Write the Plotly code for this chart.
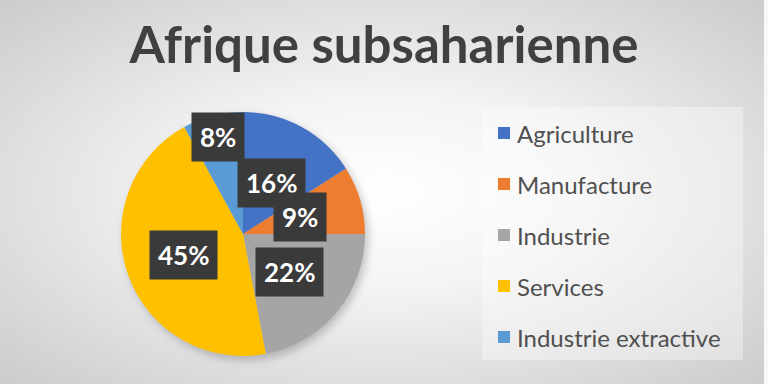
import base64
import math
import plotly.graph_objects as go

# ---- data ----
categories = ["Agriculture", "Manufacture", "Industrie", "Services", "Industrie extractive"]
values = [16, 9, 22, 45, 8]
title_text = "Afrique subsaharienne"

# ---- style ----
W, H = 768, 384
colors = ["#4472C4", "#ED7D31", "#A5A5A5", "#FFC000", "#5B9BD5"]
pie_cx, pie_cy, pie_r = 243, 234, 122          # pixels
label_radius = [0.48, 0.49, 0.49, 0.52, 0.82]  # fraction of radius for label boxes
FONT = "Lato"

bg_svg = (
    f'<svg xmlns="http://www.w3.org/2000/svg" width="{W}" height="{H}">'
    '<defs><radialGradient id="g" cx="50%" cy="50%" r="71%">'
    '<stop offset="0" stop-color="#ffffff"/><stop offset="0.35" stop-color="#f4f4f4"/>'
    '<stop offset="1" stop-color="#cbcbcb"/></radialGradient>'
    '<filter id="b" x="-20%" y="-20%" width="140%" height="140%"><feGaussianBlur stdDeviation="4"/></filter></defs>'
    f'<rect width="{W}" height="{H}" fill="url(#g)"/>'
    f'<rect x="{W - 4}" width="4" height="{H}" fill="#f8f8f8"/>'
    f'<circle cx="{pie_cx + 3}" cy="{pie_cy + 4}" r="{pie_r}" fill="rgba(0,0,0,0.22)" filter="url(#b)"/>'
    '</svg>'
)
bg_src = "data:image/svg+xml;base64," + base64.b64encode(bg_svg.encode()).decode()

fig = go.Figure()
fig.add_trace(go.Pie(
    labels=categories,
    values=values,
    sort=False,
    direction="clockwise",
    rotation=0,
    marker=dict(colors=colors, line=dict(width=0)),
    textinfo="none",
    hoverinfo="label+percent",
    showlegend=False,
    domain=dict(x=[(pie_cx - pie_r) / W, (pie_cx + pie_r) / W],
                y=[(H - pie_cy - pie_r) / H, (H - pie_cy + pie_r) / H]),
))

annotations = []
total = sum(values)
cum = 0
for i, v in enumerate(values):
    mid = (cum + v / 2) / total
    cum += v
    a = 2 * math.pi * mid
    px = pie_cx + label_radius[i] * pie_r * math.sin(a)
    py = pie_cy - label_radius[i] * pie_r * math.cos(a)
    annotations.append(dict(
        x=px / W, y=1 - py / H, xref="paper", yref="paper",
        text=f"<b>{round(100 * v / total)}%</b>", showarrow=False,
        font=dict(family=FONT, size=26, color="white"),
        bgcolor="#3a3a3a", borderpad=8, xanchor="center", yanchor="middle",
    ))

# manual legend
leg_sym_x, leg_text_x, leg_y0, leg_dy, sym = 498, 515, 133, 51, 12
shapes = [dict(type="rect", xref="paper", yref="paper",
               x0=482 / W, x1=743 / W, y0=1 - 360 / H, y1=1 - 107 / H,
               fillcolor="rgba(255,255,255,0.35)", line=dict(width=0), layer="below")]
for i, c in enumerate(categories):
    yc = leg_y0 + i * leg_dy
    shapes.append(dict(type="rect", xref="paper", yref="paper",
                       x0=leg_sym_x / W, x1=(leg_sym_x + sym) / W,
                       y0=1 - (yc + sym / 2) / H, y1=1 - (yc - sym / 2) / H,
                       fillcolor=colors[i], line=dict(width=0)))
    annotations.append(dict(
        x=leg_text_x / W, y=1 - yc / H, xref="paper", yref="paper",
        text=c, showarrow=False, xanchor="left", yanchor="middle",
        font=dict(family=FONT, size=24, color="#505050"),
    ))

fig.update_layout(
    width=W, height=H,
    margin=dict(l=0, r=0, t=0, b=0),
    paper_bgcolor="#e6e6e6",
    plot_bgcolor="rgba(0,0,0,0)",
    title=dict(text=f"<b>{title_text}</b>", x=0.5, xanchor="center",
               y=1 - 45 / H, yanchor="middle", yref="container",
               font=dict(family=FONT, size=51, color="#404040")),
    annotations=annotations,
    shapes=shapes,
    images=[dict(source=bg_src, xref="paper", yref="paper", x=0, y=1,
                 sizex=1, sizey=1, xanchor="left", yanchor="top",
                 sizing="stretch", layer="below")],
)

fig.write_html("out.html")
